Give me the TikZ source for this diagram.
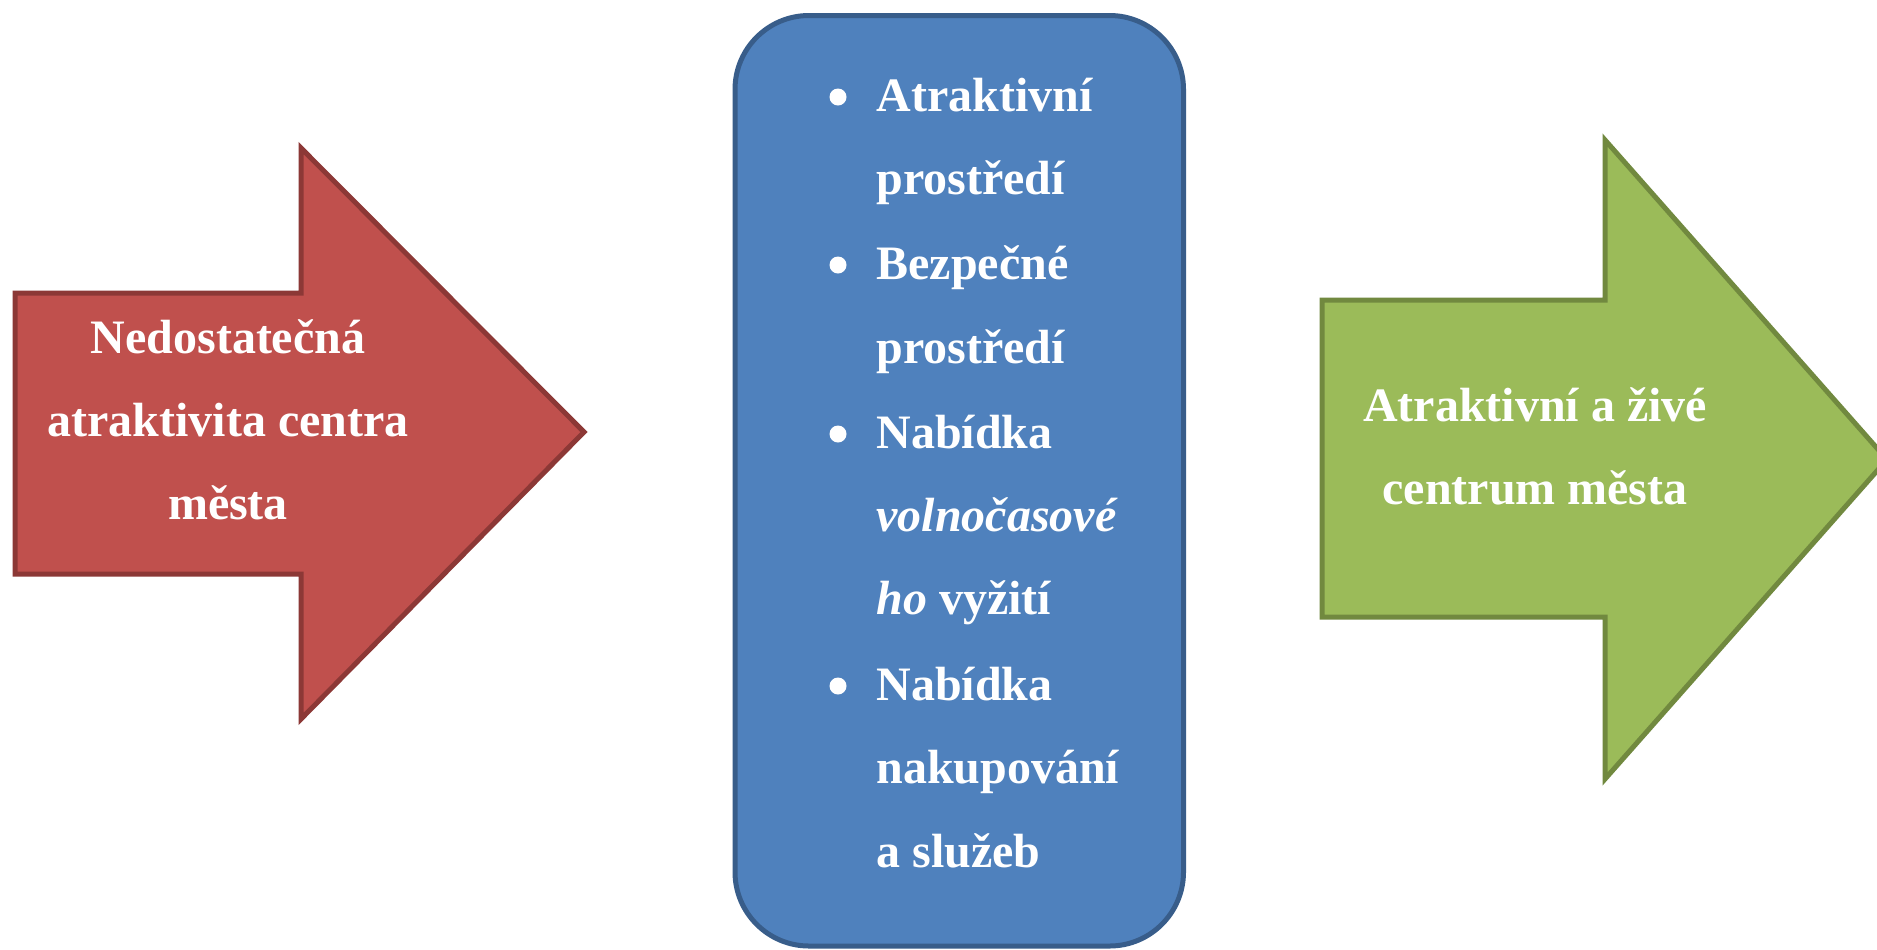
\documentclass[tikz,border=0pt]{standalone}
\usepackage{fontspec}
\setmainfont{Liberation Serif}
\definecolor{redfill}{HTML}{C0504D}
\definecolor{redline}{HTML}{8C3836}
\definecolor{bluefill}{HTML}{4F81BD}
\definecolor{blueline}{HTML}{385D8A}
\definecolor{greenfill}{HTML}{9BBB59}
\definecolor{greenline}{HTML}{71893F}
\begin{document}
\begin{tikzpicture}[x=0.5pt,y=-0.5pt,
  shapeline/.style={line width=2.5pt,line join=miter},
  redshape/.style={shapeline,fill=redfill,draw=redline},
  blueshape/.style={shapeline,fill=bluefill,draw=blueline,rounded corners=37pt},
  greenshape/.style={shapeline,fill=greenfill,draw=greenline},
  lbl/.style={text=white,font=\fontsize{24}{42}\selectfont\bfseries,inner sep=0pt,anchor=base},
  item/.style={lbl,anchor=base west},
  bul/.style={circle,fill=white,inner sep=0pt,minimum size=8.5pt}]
\useasboundingbox (0,0) rectangle (1877,949);
\fill[white] (0,0) rectangle (1877,949);
% red arrow
\draw[redshape] (15,293) -- (301,293) -- (301,148) -- (584,432) -- (301,719) -- (301,574) -- (15,574) -- cycle;
\node[lbl] (r1) at (228,353) {Nedostatečná};
\node[lbl] (r2) at (228,436) {atraktivita centra};
\node[lbl] (r3) at (228,519) {města};
% blue box
\draw[blueshape] (735,15.5) rectangle (1183.5,946);
\node[bul] (b1) at (838,97) {};
\node[item] (t1) at (876,111) {Atraktivní};
\node[item] (t2) at (876,194) {prostředí};
\node[bul] (b2) at (838,265) {};
\node[item] (t3) at (876,279) {Bezpečné};
\node[item] (t4) at (876,363) {prostředí};
\node[bul] (b3) at (838,434) {};
\node[item] (t5) at (876,448) {Nabídka};
\node[item] (t6) at (876,531) {\itshape volnočasové};
\node[item] (t7) at (876,614) {\textit{ho} vyžití};
\node[bul] (b4) at (838,686) {};
\node[item] (t8) at (876,700) {Nabídka};
\node[item] (t9) at (876,783) {nakupování};
\node[item] (t10) at (876,867) {a služeb};
% green arrow
\draw[greenshape] (1322,300) -- (1605,300) -- (1605,140) -- (1887,459.5) -- (1605,779) -- (1605,617) -- (1322,617) -- cycle;
\node[lbl] (g1) at (1535,421) {Atraktivní a živé};
\node[lbl] (g2) at (1535,504) {centrum města};
\end{tikzpicture}
\end{document}
